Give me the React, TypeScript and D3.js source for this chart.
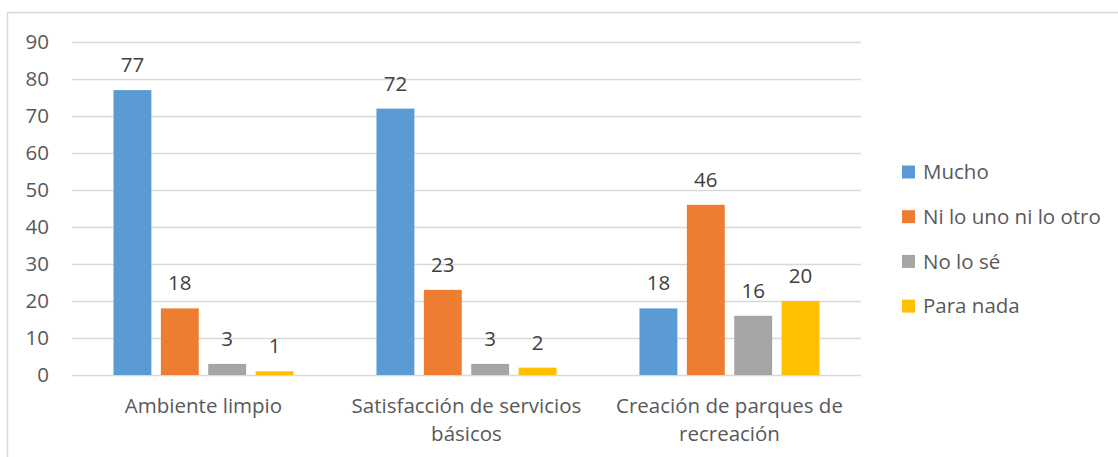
import React, { useEffect, useRef } from "react";
import * as d3 from "d3";

const categories = [
  ["Ambiente limpio"],
  ["Satisfacción de servicios", "básicos"],
  ["Creación de parques de", "recreación"],
];
const seriesNames = ["Mucho", "Ni lo uno ni lo otro", "No lo sé", "Para nada"];
const seriesColors = ["#5B9BD5", "#ED7D31", "#A5A5A5", "#FFC000"];
const mucho = [77, 72, 18];
const niLoUno = [18, 23, 46];
const noLoSe = [3, 3, 16];
const paraNada = [1, 2, 20];
const yTicks = [0, 10, 20, 30, 40, 50, 60, 70, 80, 90];

const FONT = "'Open Sans', sans-serif";
const FS = 20.5;

const App = () => {
  const ref = useRef<SVGSVGElement>(null);

  useEffect(() => {
    const width = 1118;
    const height = 457;
    const svg = d3.select(ref.current).attr("width", width).attr("height", height);
    svg.selectAll("*").remove();

    const values = [mucho, niLoUno, noLoSe, paraNada];
    const catKeys = categories.map((c) => c.join(" "));

    const plot = { left: 72, right: 861, top: 42, bottom: 375 };

    // chart frame (open on right and bottom, cropped)
    svg
      .append("path")
      .attr("d", `M7.5,${height}V12.5H${width}`)
      .attr("fill", "none")
      .attr("stroke", "#D9D9D9")
      .attr("stroke-width", 1.5);

    const y = d3.scaleLinear().domain([0, 90]).range([plot.bottom, plot.top]);
    const x0 = d3.scaleBand().domain(catKeys).range([plot.left, plot.right]);
    const x1 = d3
      .scaleBand()
      .domain(seriesNames)
      .range([0, x0.bandwidth()])
      .paddingInner(0.2)
      .paddingOuter(0.875);

    // gridlines
    svg
      .append("g")
      .selectAll("line")
      .data(yTicks)
      .join("line")
      .attr("x1", plot.left)
      .attr("x2", plot.right)
      .attr("y1", (d) => Math.round(y(d)) + 0.5)
      .attr("y2", (d) => Math.round(y(d)) + 0.5)
      .attr("stroke", "#D9D9D9")
      .attr("stroke-width", 1.3);

    // y tick labels
    svg
      .append("g")
      .selectAll("text")
      .data(yTicks)
      .join("text")
      .attr("x", 49)
      .attr("y", (d) => y(d) + 7.3)
      .attr("text-anchor", "end")
      .attr("font-family", FONT)
      .attr("font-size", FS)
      .attr("fill", "#595959")
      .text((d) => d);

    // bars
    const groups = svg
      .append("g")
      .selectAll("g")
      .data(catKeys)
      .join("g")
      .attr("transform", (d) => `translate(${x0(d)},0)`);

    groups.each(function (cat, ci) {
      const g = d3.select(this);
      seriesNames.forEach((s, si) => {
        const v = values[si][ci];
        g.append("rect")
          .attr("x", x1(s)!)
          .attr("y", y(v))
          .attr("width", x1.bandwidth())
          .attr("height", y(0) - y(v))
          .attr("fill", seriesColors[si]);
        g.append("text")
          .attr("x", x1(s)! + x1.bandwidth() / 2)
          .attr("y", y(v) - 18)
          .attr("text-anchor", "middle")
          .attr("font-family", FONT)
          .attr("font-size", FS)
          .attr("fill", "#404040")
          .text(v);
      });
    });

    // category labels
    categories.forEach((lines, ci) => {
      const cx = x0(catKeys[ci])! + x0.bandwidth() / 2;
      const t = svg
        .append("text")
        .attr("text-anchor", "middle")
        .attr("font-family", FONT)
        .attr("font-size", FS)
        .attr("fill", "#595959");
      lines.forEach((line, li) => {
        t.append("tspan")
          .attr("x", cx)
          .attr("y", 413 + li * 28)
          .text(line);
      });
    });

    // legend
    const legend = svg
      .append("g")
      .selectAll("g")
      .data(seriesNames)
      .join("g")
      .attr("transform", (d, i) => `translate(902,${172 + i * 44.7})`);
    legend
      .append("rect")
      .attr("x", 0)
      .attr("y", -6.5)
      .attr("width", 13)
      .attr("height", 13)
      .attr("fill", (d, i) => seriesColors[i]);
    legend
      .append("text")
      .attr("x", 21)
      .attr("y", 7.3)
      .attr("font-family", FONT)
      .attr("font-size", FS)
      .attr("fill", "#595959")
      .text((d) => d);
  }, []);

  return (
    <svg
      ref={ref}
      style={{ position: "absolute", left: 0, top: 0, background: "#fff" }}
    ></svg>
  );
};

export default App;
